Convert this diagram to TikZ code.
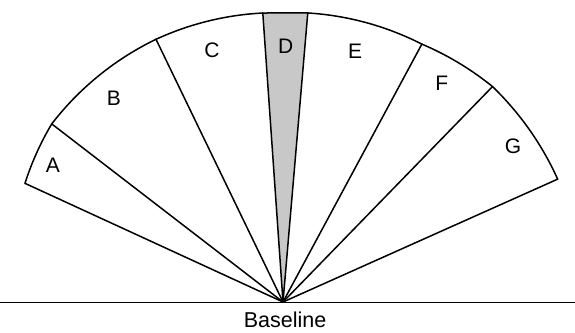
\documentclass[tikz,border=0pt]{standalone}
\usepackage{fontspec}
\setmainfont{Liberation Sans}
\newcommand\arcseg[4]{%
  plot[domain=#1:#3, samples=30, variable=\t] (\t:{#2+(#4-#2)*(\t-#1)/(#3-#1)})}
\begin{document}
\begin{tikzpicture}[x=1pt,y=1pt,
  edge/.style={line width=1.5pt, line join=round, line cap=round},
  lbl/.style={font=\fontsize{21}{21}\selectfont, inner sep=0pt},
  dshade/.style={fill={rgb,255:red,200;green,200;blue,200}}]
\useasboundingbox (0,0) rectangle (575,332);
\coordinate (bl) at (0,29.5);
\coordinate (br) at (575,29.5);
\draw[edge, line cap=butt] (bl) -- (br);
\node[lbl, font=\fontsize{21.5}{21.5}\selectfont] (base) at (285,12) {Baseline};
\begin{scope}[shift={(283,30)}]
  \coordinate (O) at (0,0);
  \coordinate (pL)  at (155.3:284.0);
  \coordinate (pAB) at (142.4:291.9);
  \coordinate (pBC) at (115.8:291.8);
  \coordinate (pDl) at (94.0:289.7);
  \coordinate (pDr) at (85.1:290.1);
  \coordinate (pEF) at (61.7:292.9);
  \coordinate (pFG) at (45.8:300.5);
  \coordinate (pR)  at (24.1:300.9);
  \fill[dshade] (O) -- (pDl) -- (pDr) -- cycle;
  \draw[edge] \arcseg{155.3}{284.0}{142.4}{291.9};
  \draw[edge] \arcseg{142.4}{291.9}{115.8}{291.8};
  \draw[edge] \arcseg{115.8}{291.8}{94.0}{289.7};
  \draw[edge] (pDl) -- (pDr);
  \draw[edge] \arcseg{85.1}{290.1}{61.7}{292.9};
  \draw[edge] \arcseg{61.7}{292.9}{45.8}{300.5};
  \draw[edge] \arcseg{45.8}{300.5}{24.1}{300.9};
  \foreach \p in {pL,pAB,pBC,pDl,pDr,pEF,pFG,pR} \draw[edge] (O) -- (\p);
\end{scope}
\node[lbl] (A) at (53,167) {A};
\node[lbl] (B) at (114,234) {B};
\node[lbl] (C) at (212,282) {C};
\node[lbl] (D) at (285.7,286) {D};
\node[lbl] (E) at (355,281) {E};
\node[lbl] (F) at (441.7,249) {F};
\node[lbl] (G) at (513,186) {G};
\end{tikzpicture}
\end{document}
